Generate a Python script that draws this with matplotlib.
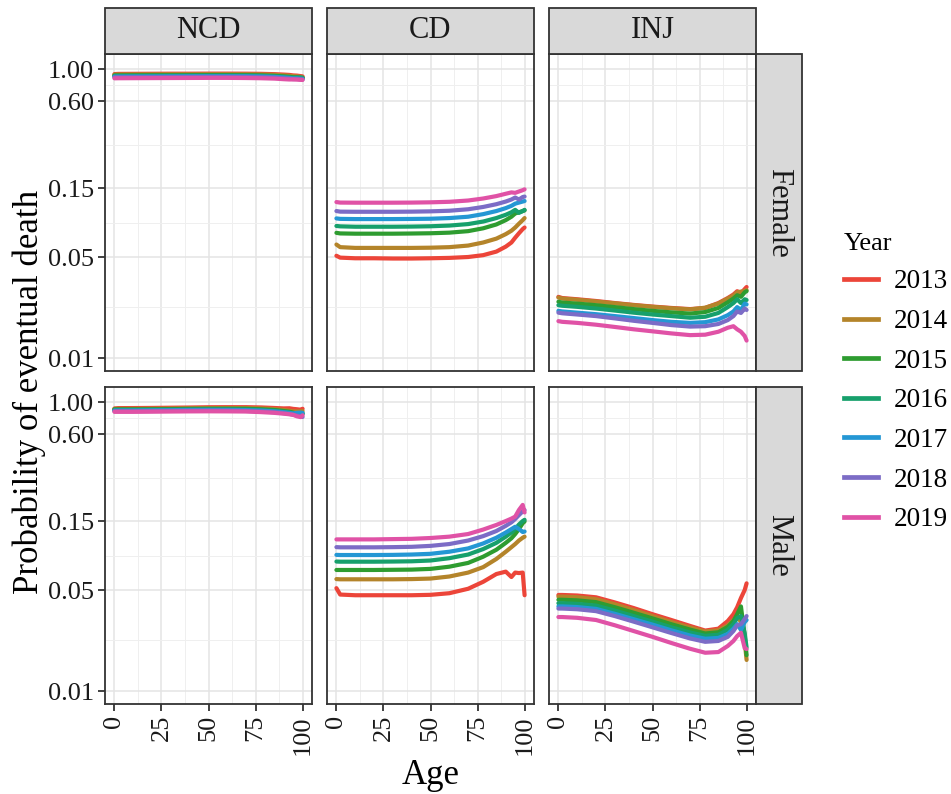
import matplotlib
matplotlib.use("Agg")
from matplotlib import pyplot as plt
from matplotlib.lines import Line2D
from matplotlib.patches import Rectangle

plt.rcParams['font.family'] = ['Liberation Serif', 'DejaVu Serif']

years  = ['2013', '2014', '2015', '2016', '2017', '2018', '2019']
colors = ['#EC4539', '#B4842A', '#2E9C30', '#17A06C', '#2497D4', '#7C6CC6', '#E052A6']
causes = ['NCD', 'CD', 'INJ']
sexes  = ['Female', 'Male']
ages   = [0, 2, 10, 20, 30, 40, 50, 60, 70, 78, 85, 90, 93, 95, 97, 99, 100]

# one row per year (2013 .. 2019), values at the ages above
ncd_female = [
    [0.922, 0.925, 0.926, 0.927, 0.928, 0.928, 0.929, 0.929, 0.928, 0.926, 0.921, 0.915, 0.910, 0.903, 0.900, 0.893, 0.889],
    [0.913, 0.916, 0.917, 0.918, 0.919, 0.919, 0.920, 0.920, 0.919, 0.916, 0.911, 0.903, 0.897, 0.892, 0.887, 0.881, 0.876],
    [0.902, 0.903, 0.904, 0.905, 0.905, 0.906, 0.907, 0.907, 0.906, 0.903, 0.897, 0.889, 0.883, 0.876, 0.874, 0.869, 0.866],
    [0.895, 0.895, 0.896, 0.897, 0.898, 0.899, 0.900, 0.900, 0.899, 0.896, 0.890, 0.882, 0.876, 0.870, 0.875, 0.873, 0.870],
    [0.886, 0.887, 0.888, 0.889, 0.890, 0.891, 0.892, 0.892, 0.891, 0.888, 0.882, 0.874, 0.868, 0.862, 0.861, 0.857, 0.855],
    [0.875, 0.876, 0.877, 0.878, 0.879, 0.880, 0.881, 0.881, 0.880, 0.876, 0.871, 0.863, 0.857, 0.851, 0.854, 0.848, 0.847],
    [0.862, 0.863, 0.864, 0.865, 0.866, 0.867, 0.868, 0.868, 0.866, 0.863, 0.858, 0.850, 0.846, 0.847, 0.844, 0.841, 0.840],
]
cd_female = [
    [0.0510, 0.0495, 0.0490, 0.0490, 0.0488, 0.0488, 0.0490, 0.0493, 0.0500, 0.0515, 0.0545, 0.0590, 0.0630, 0.0680, 0.0730, 0.0780, 0.0800],
    [0.0610, 0.0585, 0.0578, 0.0578, 0.0578, 0.0578, 0.0580, 0.0585, 0.0600, 0.0630, 0.0670, 0.0720, 0.0760, 0.0800, 0.0850, 0.0900, 0.0930],
    [0.0735, 0.0728, 0.0725, 0.0725, 0.0725, 0.0727, 0.0730, 0.0737, 0.0755, 0.0790, 0.0840, 0.0900, 0.0950, 0.1000, 0.1020, 0.1040, 0.1050],
    [0.0820, 0.0815, 0.0810, 0.0810, 0.0810, 0.0812, 0.0816, 0.0825, 0.0845, 0.0880, 0.0930, 0.0980, 0.1020, 0.1060, 0.1010, 0.1040, 0.1060],
    [0.0925, 0.0918, 0.0915, 0.0915, 0.0915, 0.0917, 0.0920, 0.0930, 0.0950, 0.0990, 0.1040, 0.1090, 0.1130, 0.1170, 0.1190, 0.1210, 0.1220],
    [0.1040, 0.1030, 0.1028, 0.1028, 0.1028, 0.1030, 0.1035, 0.1045, 0.1070, 0.1110, 0.1160, 0.1210, 0.1250, 0.1290, 0.1250, 0.1300, 0.1310],
    [0.1200, 0.1190, 0.1188, 0.1188, 0.1188, 0.1190, 0.1195, 0.1205, 0.1230, 0.1270, 0.1320, 0.1370, 0.1400, 0.1390, 0.1420, 0.1450, 0.1470],
]
inj_female = [
    [0.0265, 0.0260, 0.0255, 0.0248, 0.0240, 0.0233, 0.0227, 0.0222, 0.0218, 0.0222, 0.0240, 0.0260, 0.0275, 0.0290, 0.0280, 0.0300, 0.0310],
    [0.0262, 0.0258, 0.0253, 0.0246, 0.0239, 0.0232, 0.0226, 0.0221, 0.0217, 0.0223, 0.0238, 0.0258, 0.0270, 0.0285, 0.0288, 0.0292, 0.0295],
    [0.0245, 0.0242, 0.0238, 0.0232, 0.0225, 0.0218, 0.0212, 0.0207, 0.0203, 0.0208, 0.0222, 0.0243, 0.0258, 0.0272, 0.0265, 0.0285, 0.0290],
    [0.0232, 0.0230, 0.0226, 0.0220, 0.0213, 0.0206, 0.0200, 0.0195, 0.0190, 0.0193, 0.0205, 0.0225, 0.0240, 0.0255, 0.0240, 0.0255, 0.0252],
    [0.0212, 0.0210, 0.0206, 0.0201, 0.0195, 0.0189, 0.0183, 0.0178, 0.0175, 0.0177, 0.0185, 0.0198, 0.0210, 0.0225, 0.0215, 0.0238, 0.0235],
    [0.0206, 0.0204, 0.0200, 0.0195, 0.0188, 0.0181, 0.0175, 0.0169, 0.0165, 0.0166, 0.0172, 0.0183, 0.0195, 0.0210, 0.0205, 0.0220, 0.0215],
    [0.0180, 0.0178, 0.0175, 0.0170, 0.0164, 0.0158, 0.0153, 0.0148, 0.0144, 0.0145, 0.0152, 0.0162, 0.0166, 0.0158, 0.0152, 0.0142, 0.0132],
]
ncd_male = [
    [0.902, 0.907, 0.908, 0.910, 0.913, 0.916, 0.920, 0.921, 0.921, 0.917, 0.909, 0.903, 0.905, 0.896, 0.891, 0.884, 0.898],
    [0.896, 0.896, 0.896, 0.898, 0.901, 0.905, 0.907, 0.908, 0.907, 0.902, 0.892, 0.880, 0.870, 0.863, 0.860, 0.863, 0.866],
    [0.889, 0.889, 0.889, 0.891, 0.893, 0.896, 0.898, 0.898, 0.897, 0.890, 0.880, 0.866, 0.856, 0.844, 0.830, 0.831, 0.833],
    [0.881, 0.881, 0.881, 0.883, 0.885, 0.888, 0.890, 0.889, 0.887, 0.880, 0.869, 0.856, 0.846, 0.836, 0.825, 0.825, 0.827],
    [0.874, 0.874, 0.874, 0.876, 0.878, 0.881, 0.882, 0.882, 0.879, 0.872, 0.862, 0.850, 0.841, 0.834, 0.841, 0.844, 0.842],
    [0.864, 0.864, 0.864, 0.866, 0.868, 0.870, 0.872, 0.871, 0.867, 0.860, 0.850, 0.837, 0.827, 0.816, 0.806, 0.794, 0.788],
    [0.855, 0.855, 0.855, 0.857, 0.859, 0.861, 0.862, 0.861, 0.859, 0.851, 0.841, 0.830, 0.822, 0.815, 0.796, 0.786, 0.809],
]
cd_male = [
    [0.0515, 0.0465, 0.0460, 0.0460, 0.0460, 0.0460, 0.0463, 0.0475, 0.0510, 0.0570, 0.0645, 0.0670, 0.0615, 0.0660, 0.0655, 0.0660, 0.0460],
    [0.0595, 0.0593, 0.0593, 0.0593, 0.0593, 0.0595, 0.0600, 0.0620, 0.0660, 0.0720, 0.0820, 0.0920, 0.0990, 0.1040, 0.1100, 0.1150, 0.1170],
    [0.0688, 0.0688, 0.0688, 0.0688, 0.0690, 0.0692, 0.0700, 0.0725, 0.0770, 0.0850, 0.0950, 0.1060, 0.1140, 0.1220, 0.1320, 0.1450, 0.1490],
    [0.0787, 0.0785, 0.0785, 0.0785, 0.0787, 0.0790, 0.0800, 0.0830, 0.0880, 0.0960, 0.1060, 0.1170, 0.1250, 0.1320, 0.1420, 0.1500, 0.1530],
    [0.0875, 0.0873, 0.0873, 0.0873, 0.0875, 0.0880, 0.0890, 0.0920, 0.0970, 0.1050, 0.1150, 0.1250, 0.1320, 0.1370, 0.1320, 0.1260, 0.1270],
    [0.0990, 0.0987, 0.0987, 0.0987, 0.0990, 0.0995, 0.1010, 0.1040, 0.1100, 0.1180, 0.1280, 0.1390, 0.1470, 0.1550, 0.1650, 0.1750, 0.1790],
    [0.1120, 0.1120, 0.1120, 0.1120, 0.1125, 0.1130, 0.1145, 0.1170, 0.1220, 0.1310, 0.1410, 0.1500, 0.1560, 0.1610, 0.1790, 0.1940, 0.1720],
]
inj_male = [
    [0.0462, 0.0462, 0.0458, 0.0445, 0.0410, 0.0375, 0.0340, 0.0310, 0.0282, 0.0262, 0.0270, 0.0305, 0.0340, 0.0380, 0.0440, 0.0500, 0.0556],
    [0.0450, 0.0450, 0.0446, 0.0432, 0.0398, 0.0363, 0.0330, 0.0300, 0.0275, 0.0258, 0.0263, 0.0285, 0.0310, 0.0330, 0.0300, 0.0220, 0.0164],
    [0.0428, 0.0428, 0.0424, 0.0412, 0.0380, 0.0348, 0.0318, 0.0290, 0.0266, 0.0250, 0.0255, 0.0278, 0.0305, 0.0340, 0.0385, 0.0240, 0.0177],
    [0.0405, 0.0405, 0.0401, 0.0390, 0.0360, 0.0330, 0.0302, 0.0276, 0.0254, 0.0241, 0.0245, 0.0265, 0.0290, 0.0320, 0.0330, 0.0250, 0.0200],
    [0.0385, 0.0385, 0.0381, 0.0370, 0.0342, 0.0314, 0.0288, 0.0263, 0.0242, 0.0230, 0.0233, 0.0248, 0.0270, 0.0290, 0.0265, 0.0300, 0.0310],
    [0.0372, 0.0372, 0.0368, 0.0357, 0.0330, 0.0302, 0.0276, 0.0252, 0.0231, 0.0219, 0.0222, 0.0237, 0.0260, 0.0285, 0.0290, 0.0315, 0.0330],
    [0.0325, 0.0325, 0.0321, 0.0310, 0.0285, 0.0260, 0.0237, 0.0215, 0.0196, 0.0184, 0.0186, 0.0205, 0.0222, 0.0240, 0.0253, 0.0198, 0.0195],
]

y_breaks = [0.01, 0.05, 0.15, 0.60, 1.00]
y_labels = ['0.01', '0.05', '0.15', '0.60', '1.00']
y_minor  = [0.0224, 0.0866, 0.30, 0.775]
x_breaks = [0, 25, 50, 75, 100]
x_minor  = [12.5, 37.5, 62.5, 87.5]

panels = {
    ('Female', 'NCD'): ncd_female, ('Female', 'CD'): cd_female, ('Female', 'INJ'): inj_female,
    ('Male', 'NCD'): ncd_male,     ('Male', 'CD'): cd_male,     ('Male', 'INJ'): inj_male,
}

W, H = 951, 794
fig = plt.figure(figsize=(W / 100, H / 100), dpi=100)

def fx(px):
    return px / W

def fy(py):
    return 1 - py / H

col_left = [105, 327, 549]
row_top  = [54, 387]
pw, ph   = 207, 317
strip    = 46
dark     = '#333333'
strip_bg = '#D9D9D9'

for r, sex in enumerate(sexes):
    for c, cause in enumerate(causes):
        ax = fig.add_axes([fx(col_left[c]), fy(row_top[r] + ph), pw / W, ph / H])
        for i, yr in enumerate(years):
            ax.plot(ages, panels[(sex, cause)][i], color=colors[i], lw=3.0,
                    solid_capstyle='round', solid_joinstyle='round', zorder=2)
        ax.set_yscale('log')
        ax.set_xlim(-5, 105)
        ax.set_ylim(0.00813, 1.27)
        ax.set_yticks(y_breaks)
        ax.set_yticks(y_minor, minor=True)
        ax.set_yticklabels(y_labels)
        ax.yaxis.set_minor_formatter(plt.NullFormatter())
        ax.set_xticks(x_breaks)
        ax.set_xticks(x_minor, minor=True)
        ax.set_xticklabels([str(v) for v in x_breaks], rotation=90)
        ax.grid(which='major', color='#E4E4E4', lw=1.1)
        ax.grid(which='minor', color='#EFEFEF', lw=0.7)
        ax.set_axisbelow(True)
        for sp in ax.spines.values():
            sp.set_color(dark)
            sp.set_linewidth(1.3)
            sp.set_zorder(3)
        ax.tick_params(which='minor', length=0)
        ax.tick_params(which='major', length=5, width=1.3, color=dark,
                       labelsize=19, labelcolor='#1A1A1A', pad=3)
        if c != 0:
            ax.tick_params(axis='y', which='both', left=False, labelleft=False)
        if r != len(sexes) - 1:
            ax.tick_params(axis='x', which='both', bottom=False, labelbottom=False)

# strips on top (causes) and right (sex)
for c, cause in enumerate(causes):
    fig.add_artist(Rectangle((fx(col_left[c]), fy(row_top[0])), pw / W, strip / H,
                             transform=fig.transFigure, facecolor=strip_bg,
                             edgecolor=dark, lw=1.3))
    fig.text(fx(col_left[c] + pw / 2), fy(row_top[0] - strip / 2), cause,
             ha='center', va='center', fontsize=22, color='#1A1A1A')

for r, sex in enumerate(sexes):
    fig.add_artist(Rectangle((fx(col_left[2] + pw), fy(row_top[r] + ph)), strip / W, ph / H,
                             transform=fig.transFigure, facecolor=strip_bg,
                             edgecolor=dark, lw=1.3))
    fig.text(fx(col_left[2] + pw + strip / 2), fy(row_top[r] + ph / 2), sex,
             ha='center', va='center', rotation=-90, fontsize=22, color='#1A1A1A')

fig.text(fx(29), fy(392), 'Probability of eventual death',
         rotation=90, ha='center', va='center', fontsize=25)
fig.text(fx((col_left[0] + col_left[2] + pw) / 2), fy(776), 'Age',
         ha='center', va='center', fontsize=25)

handles = [Line2D([], [], color=col, lw=3.4) for col in colors]
leg = fig.legend(handles, years, title='Year', loc='upper left',
                 bbox_to_anchor=(fx(833), fy(222)), frameon=False,
                 fontsize=19.5, title_fontsize=19, handlelength=1.25,
                 handletextpad=0.6, labelspacing=0.54, borderaxespad=0)
leg._legend_box.align = 'left'

fig.savefig('out.png', dpi=100)
